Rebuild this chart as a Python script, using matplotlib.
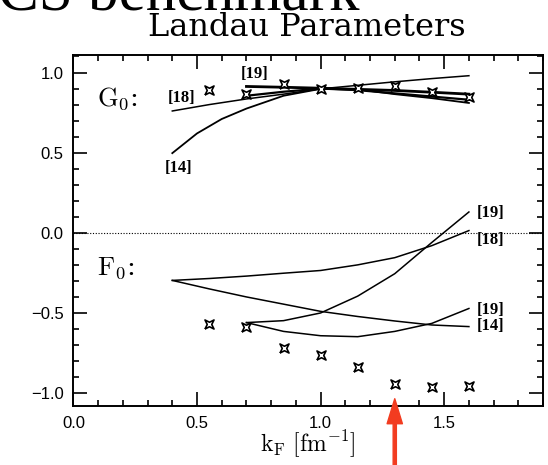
import numpy as np
import matplotlib
matplotlib.use("Agg")
import matplotlib.pyplot as plt
from matplotlib.ticker import MultipleLocator

plt.rcParams['mathtext.fontset'] = 'cm'

# puntos "experimentales" (estrellas)
kf_pts = [0.55, 0.70, 0.85, 1.00, 1.15, 1.30, 1.45, 1.60]
g0_pts = [0.89, 0.865, 0.93, 0.90, 0.905, 0.915, 0.88, 0.85]
f0_pts = [-0.57, -0.585, -0.72, -0.76, -0.835, -0.945, -0.96, -0.955]

# curvas G0
kf_a = [0.40, 0.55, 0.70, 0.85, 1.00, 1.15, 1.30, 1.45, 1.60]
g0_18 = [0.76, 0.80, 0.835, 0.865, 0.898, 0.92, 0.942, 0.962, 0.98]
kf_14g = [0.40, 0.50, 0.60, 0.70, 0.85, 1.00, 1.15, 1.30, 1.45, 1.60]
g0_14 = [0.497, 0.62, 0.71, 0.775, 0.855, 0.898, 0.895, 0.865, 0.84, 0.81]
kf_b = [0.70, 0.85, 1.00, 1.15, 1.30, 1.45, 1.60]
g0_19a = [0.913, 0.908, 0.902, 0.895, 0.888, 0.877, 0.865]
g0_19b = [0.855, 0.88, 0.90, 0.89, 0.87, 0.85, 0.83]

# curvas F0
f0_18 = [-0.297, -0.285, -0.27, -0.252, -0.235, -0.20, -0.155, -0.08, 0.014]
f0_14 = [-0.297, -0.35, -0.40, -0.445, -0.49, -0.522, -0.55, -0.575, -0.585]
f0_19a = [-0.56, -0.548, -0.50, -0.395, -0.255, -0.06, 0.13]
f0_19b = [-0.56, -0.615, -0.642, -0.648, -0.615, -0.565, -0.472]

# estrella de 4 puntas
estrella = [(-1, -1), (0, -0.5), (1, -1), (0.5, 0), (1, 1), (0, 0.5),
            (-1, 1), (-0.5, 0), (-1, -1)]

fig = plt.figure(figsize=(5.48, 4.65), dpi=100)
ax = fig.add_axes([0.134, 0.127, 0.857, 0.755])

lw = 1.1
ax.plot(kf_a, g0_18, color='black', lw=lw)
ax.plot(kf_14g, g0_14, color='black', lw=1.3)
ax.plot(kf_b, g0_19a, color='black', lw=2.0)
ax.plot(kf_b, g0_19b, color='black', lw=1.6)

ax.plot(kf_a, f0_18, color='black', lw=lw)
ax.plot(kf_a, f0_14, color='black', lw=lw)
ax.plot(kf_b, f0_19a, color='black', lw=lw)
ax.plot(kf_b, f0_19b, color='black', lw=lw)

for ys in (g0_pts, f0_pts):
    ax.plot(kf_pts, ys, ls='none', marker=estrella, ms=6.5, mfc='white',
            mec='black', mew=1.2)

ax.axhline(0.0, color='black', lw=0.8, ls=(0, (1, 1.5)))

# etiquetas de referencias
ref_kw = dict(fontsize=12, ha='center', va='center', family='Liberation Serif',
              weight='bold')
ax.text(0.436, 0.842, '[18]', **ref_kw)
ax.text(0.733, 0.99, '[19]', **ref_kw)
ax.text(0.424, 0.405, '[14]', **ref_kw)
ax.text(1.686, 0.125, '[19]', **ref_kw)
ax.text(1.686, -0.044, '[18]', **ref_kw)
ax.text(1.686, -0.48, '[19]', **ref_kw)
ax.text(1.686, -0.58, '[14]', **ref_kw)

ax.text(0.096, 0.84, r'$\mathrm{G_0}$:', fontsize=19, va='center',
        family='DejaVu Serif')
ax.text(0.096, -0.22, r'$\mathrm{F_0}$:', fontsize=19, va='center',
        family='DejaVu Serif')

ax.set_xlim(0, 1.9)
ax.set_ylim(-1.08, 1.11)
ax.xaxis.set_major_locator(MultipleLocator(0.5))
ax.xaxis.set_minor_locator(MultipleLocator(0.1))
ax.yaxis.set_major_locator(MultipleLocator(0.5))
ax.yaxis.set_minor_locator(MultipleLocator(0.1))
ax.tick_params(which='both', direction='in', top=True, right=True,
               width=1.2, labelsize=12, pad=7)
ax.tick_params(which='major', length=10)
ax.tick_params(which='minor', length=4)
for lab in ax.get_xticklabels() + ax.get_yticklabels():
    lab.set_family('Liberation Sans')
for s in ax.spines.values():
    s.set_linewidth(1.4)

ax.set_xlabel(r'$\mathrm{k_F\ [fm^{-1}]}$', fontsize=17, labelpad=-1)

fig.text(307 / 548, 1 - 28 / 465, 'Landau Parameters', fontsize=23,
         family='DejaVu Serif', ha='center', va='center')
fig.text(-0.004, 0.979, 'CS benchmark', fontsize=44,
         family='Liberation Serif', ha='left', va='baseline')

# flecha roja
ax.annotate('', xy=(1.3, -1.035), xytext=(1.3, -1.47),
            arrowprops=dict(width=2.3, headwidth=11, headlength=18,
                            shrink=0, color='#f23c20'),
            annotation_clip=False)

fig.savefig('out.png', dpi=100)
